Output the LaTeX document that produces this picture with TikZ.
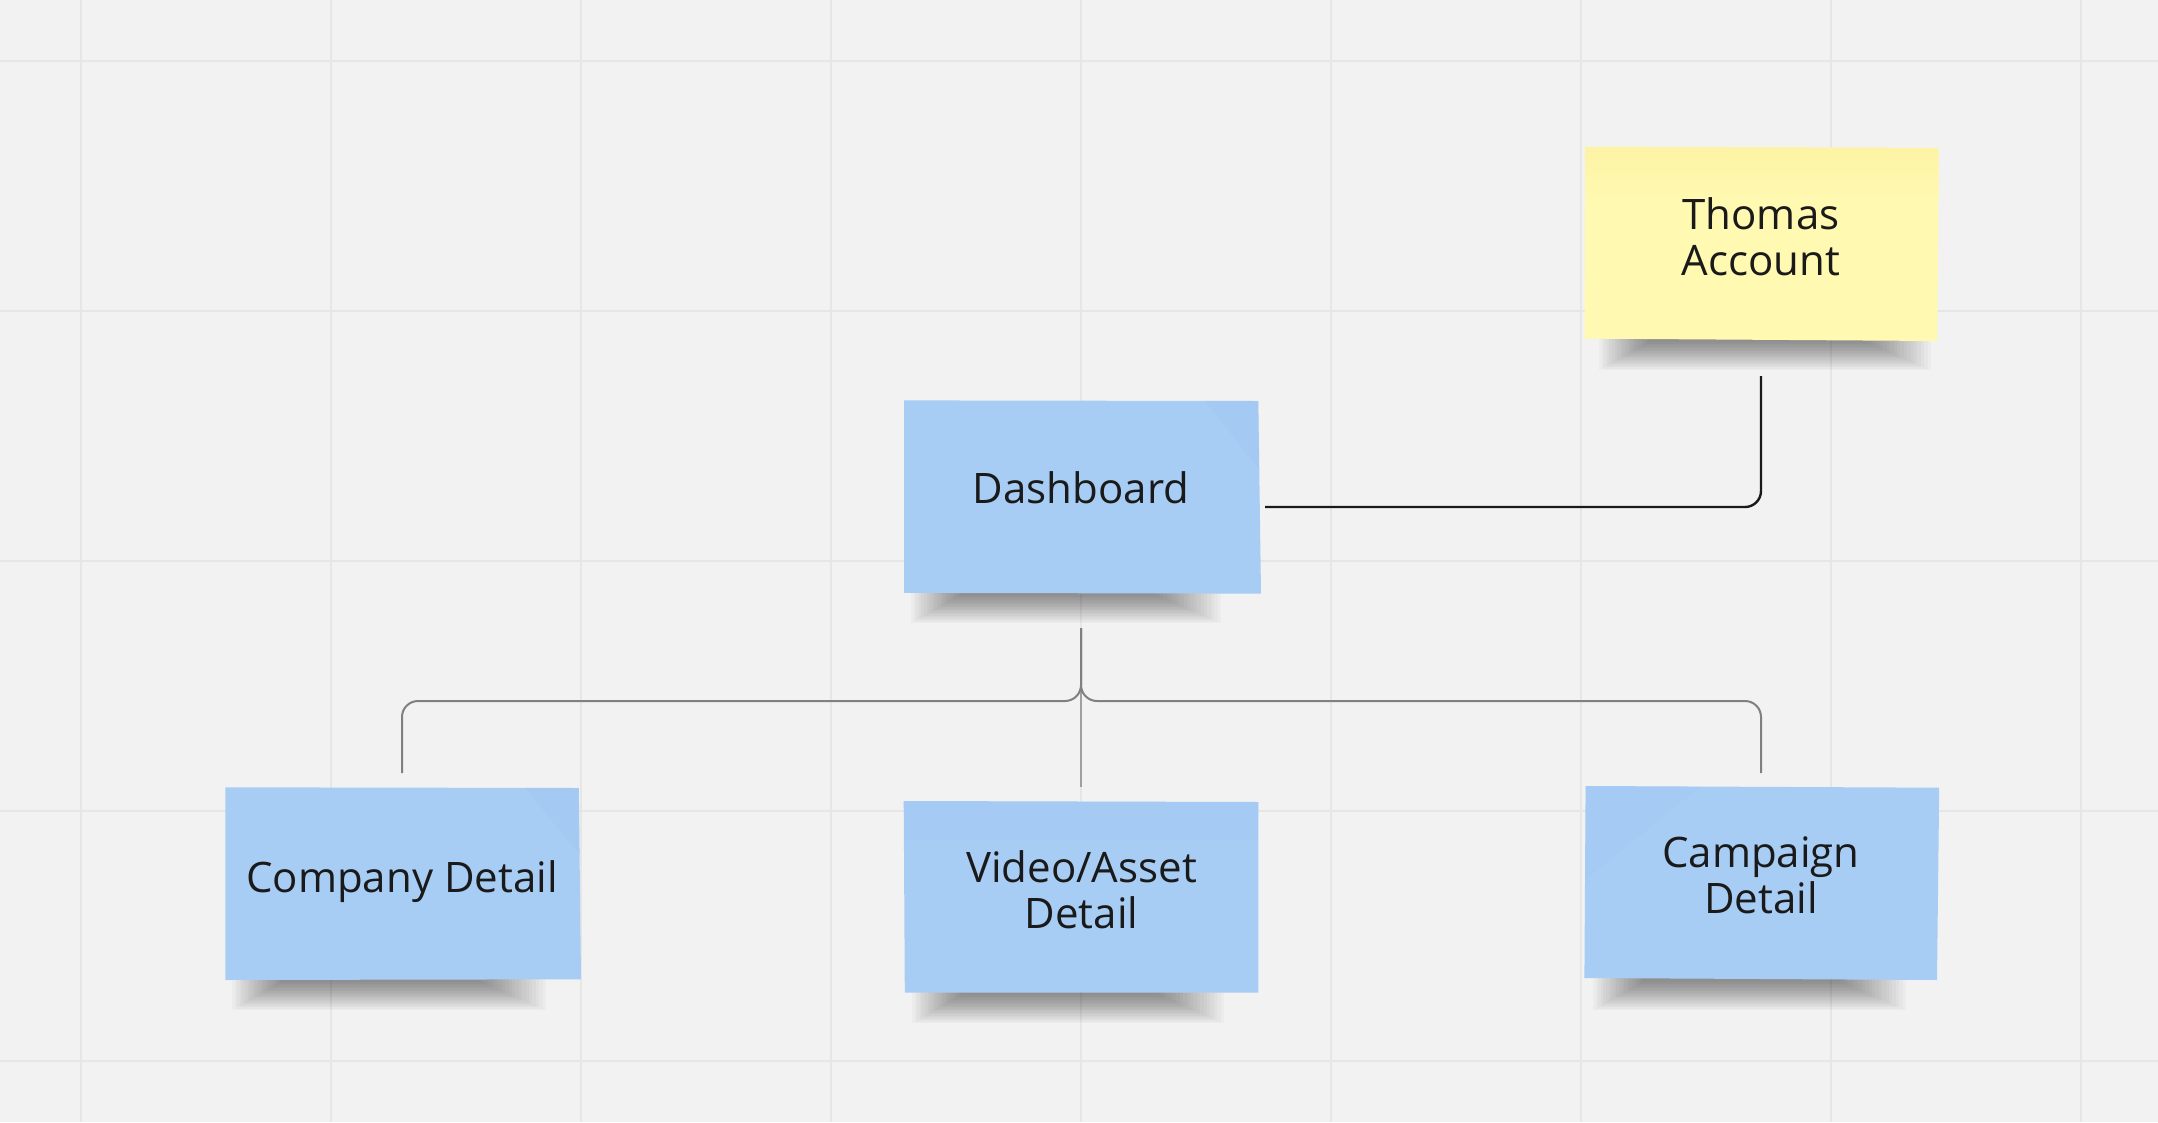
\documentclass[tikz,border=0pt]{standalone}
\usepackage{fontspec}
\setmainfont{Open Sans}
\definecolor{bgc}{HTML}{F2F2F2}
\definecolor{gridc}{HTML}{E6E6E6}
\definecolor{bluenote}{HTML}{A8CDF5}
\definecolor{bluedark}{HTML}{98BFEC}
\definecolor{yellownote}{HTML}{FFF9B1}
\definecolor{yellowdark}{HTML}{FCF3A4}
\definecolor{inkc}{HTML}{1A1A1A}
\definecolor{linegray}{HTML}{808080}
\definecolor{linegraylight}{HTML}{A0A0A0}
\newcommand\notetext{\fontsize{42}{45.7}\selectfont}
\newcommand\stickyshadow[3]{%
  \foreach \i in {0,...,19}{%
    \fill[black,opacity=0.024] ({#1-6+\i*2.6},{#3-4}) rectangle ({#2+6-\i*3.4},{#3+30-\i*1.45});
  }%
}
\begin{document}
\begin{tikzpicture}[x=1pt,y=-1pt,
  notelabel/.style={anchor=base,align=center,inner sep=0pt,text=inkc,font=\notetext},
  blackline/.style={draw=inkc,line width=2.4pt,rounded corners=16pt},
  grayline/.style={draw=linegray,line width=2pt,rounded corners=16pt},
  graythin/.style={draw=linegraylight,line width=1.4pt}]
\useasboundingbox (0,0) rectangle (2158,1122);
\fill[bgc] (0,0) rectangle (2158,1122);
% grid
\foreach \gx in {81,331,...,2081} \draw[gridc,line width=2pt] (\gx,0) -- (\gx,1122);
\foreach \gy in {60.7,310.7,...,1060.7} \draw[gridc,line width=2pt] (0,\gy) -- (2158,\gy);

% shadows
\stickyshadow{1605}{1925}{340}
\stickyshadow{917}{1215}{593}
\stickyshadow{238}{540}{980}
\stickyshadow{918}{1218}{993}
\stickyshadow{1599}{1900}{980}

% Thomas note (yellow)
\fill[yellownote] (1585.2,146.8) -- (1938.7,147.9) -- (1937.3,341) -- (1584.5,338.6) -- cycle;
\shade[top color=yellowdark,bottom color=yellownote] (1585.2,146.8) -- (1938.7,147.9) -- (1938.5,200) -- (1585,198) -- cycle;
% Dashboard note
\fill[bluenote] (904,400.4) -- (1258.3,401) -- (1261,593.6) -- (904,592.9) -- cycle;
\fill[bluedark,opacity=0.2] (1205,400.9) -- (1258.3,401) -- (1259.3,470) -- cycle;
% Company note
\fill[bluenote] (225.3,787.3) -- (578.8,788) -- (581,979.3) -- (225.3,980) -- cycle;
\fill[bluedark,opacity=0.2] (525,787.9) -- (578.8,788) -- (579.8,855) -- cycle;
% Video note
\fill[bluenote] (903.7,801) -- (1258.4,802) -- (1258.4,992.7) -- (904.8,992.7) -- cycle;
\fill[bluedark,opacity=0.15] (903.7,801) -- (1258.4,802) -- (1258.4,840) -- (903.8,839) -- cycle;
% Campaign note
\fill[bluenote] (1585.6,786) -- (1939.2,787.7) -- (1937,980) -- (1584.4,978) -- cycle;
\fill[bluedark,opacity=0.15] (1585.6,786) -- (1700,786.6) -- (1585.3,880) -- cycle;

% labels (base anchor = baseline of last line)
\node[notelabel] (thomas) at (1761,275) {Thomas\\Account};
\node[notelabel] (dash) at (1081,503.6) {Dashboard};
\node[notelabel] (company) at (402,892) {Company Detail};
\node[notelabel] (video) at (1081.5,928) {Video/Asset\\Detail};
\node[notelabel] (campaign) at (1761,913) {Campaign\\Detail};

% connector ends
\coordinate (dashR) at (1265,507);
\coordinate (thomB) at (1761,376);
\coordinate (hub) at (1081,628);
\coordinate (bus) at (1081,701);
\coordinate (compT) at (402,773);
\coordinate (campT) at (1761,773);
\coordinate (vidT) at (1081,787);

\draw[blackline] (dashR) -| (thomB);
\draw[graythin] (hub) -- (vidT);
\draw[grayline] (hub) -- (bus) -| (compT);
\draw[grayline] (hub) -- (bus) -| (campT);
\end{tikzpicture}
\end{document}
